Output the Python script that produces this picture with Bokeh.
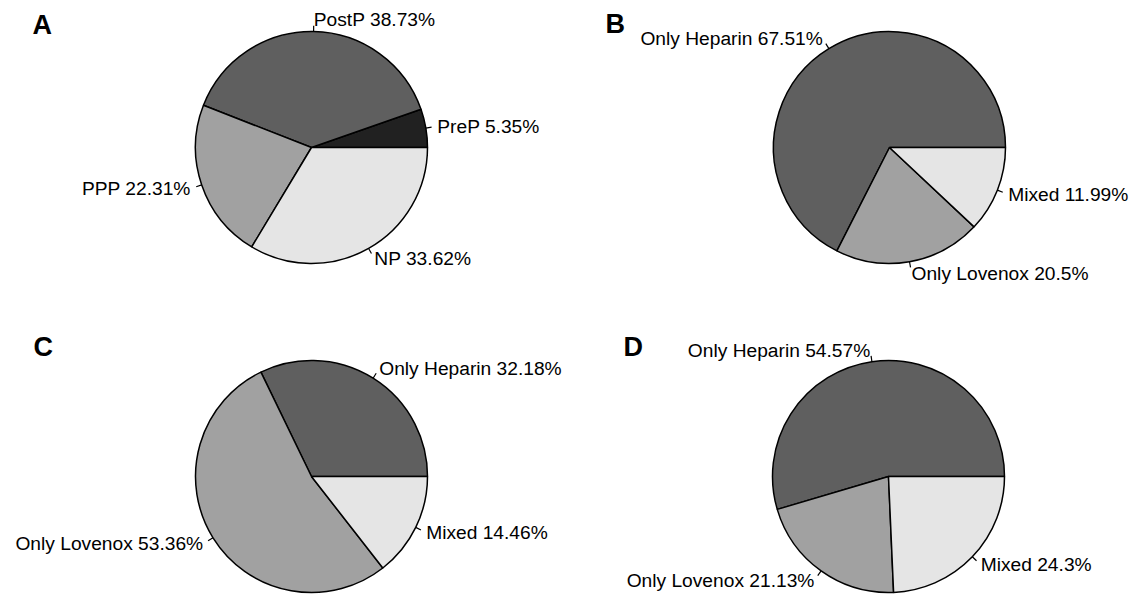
import math
from bokeh.plotting import figure
from bokeh.models import Range1d, ColumnDataSource
from bokeh.core.properties import value
from bokeh.embed import file_html
from bokeh.resources import INLINE

# ---- data ----
panel_a_labels = ["PreP", "PostP", "PPP", "NP"]
panel_a_values = [5.35, 38.73, 22.31, 33.62]
panel_a_colors = ["#212121", "#5f5f5f", "#a1a1a1", "#e5e5e5"]

panel_b_labels = ["Only Heparin", "Only Lovenox", "Mixed"]
panel_b_values = [67.51, 20.5, 11.99]

panel_c_labels = ["Only Heparin", "Only Lovenox", "Mixed"]
panel_c_values = [32.18, 53.36, 14.46]

panel_d_labels = ["Only Heparin", "Only Lovenox", "Mixed"]
panel_d_values = [54.57, 21.13, 24.3]

bcd_colors = ["#5f5f5f", "#a1a1a1", "#e5e5e5"]
panel_letters = ["A", "B", "C", "D"]

# ---- layout (reference pixel coordinates) ----
W, H = 1137, 594
R = 116
panels = [
    dict(letter="A", labels=panel_a_labels, values=panel_a_values, colors=panel_a_colors,
         cx=311, cy=147, lx=32, ly=24),
    dict(letter="B", labels=panel_b_labels, values=panel_b_values, colors=bcd_colors,
         cx=889, cy=147, lx=605, ly=23),
    dict(letter="C", labels=panel_c_labels, values=panel_c_values, colors=bcd_colors,
         cx=311, cy=476, lx=33, ly=346),
    dict(letter="D", labels=panel_d_labels, values=panel_d_values, colors=bcd_colors,
         cx=888, cy=476, lx=623, ly=346),
]

p = figure(width=W, height=H, x_range=Range1d(0, W), y_range=Range1d(0, H),
           output_backend="svg", toolbar_location=None, x_axis_type=None, y_axis_type=None,
           min_border=0, outline_line_color=None)
p.grid.visible = False
p.background_fill_color = "white"
p.border_fill_color = "white"

FONT = value("Liberation Sans")

for pn in panels:
    vals = pn["values"]
    tot = sum(vals)
    cx = pn["cx"]
    cy = H - pn["cy"]
    starts, ends, mids = [], [], []
    acc = 0.0
    for v in vals:
        a0 = 2 * math.pi * acc / tot
        acc += v
        a1 = 2 * math.pi * acc / tot
        starts.append(a0)
        ends.append(a1)
        mids.append((a0 + a1) / 2)
    src = ColumnDataSource(dict(x=[cx] * len(vals), y=[cy] * len(vals),
                                start=starts, end=ends, color=pn["colors"]))
    p.wedge(x="x", y="y", radius=R, start_angle="start", end_angle="end",
            direction="anticlock", fill_color="color", line_color="black",
            line_width=1.5, source=src)
    # tick lines and labels
    x0 = [cx + R * math.cos(m) for m in mids]
    y0 = [cy + R * math.sin(m) for m in mids]
    x1 = [cx + 1.05 * R * math.cos(m) for m in mids]
    y1 = [cy + 1.05 * R * math.sin(m) for m in mids]
    p.segment(x0=x0, y0=y0, x1=x1, y1=y1, line_color="black", line_width=1.2)
    texts = [f"{lab} {v}%" for lab, v in zip(pn["labels"], vals)]
    tx = [cx + 1.1 * R * math.cos(m) for m in mids]
    ty = [cy + 1.1 * R * math.sin(m) for m in mids]
    aligns = ["right" if math.cos(m) < 0 else "left" for m in mids]
    lsrc = ColumnDataSource(dict(x=tx, y=ty, text=texts, align=aligns))
    p.text(x="x", y="y", text="text", text_align="align", text_baseline="middle",
           text_font=FONT, text_font_size="19.2px", text_color="black", source=lsrc)
    # panel letter
    p.text(x=[pn["lx"]], y=[H - pn["ly"]], text=[pn["letter"]], text_align="left",
           text_baseline="middle", text_font=FONT, text_font_style="bold",
           text_font_size="27px", text_color="black")

open("out.html", "w").write(file_html(p, INLINE))
